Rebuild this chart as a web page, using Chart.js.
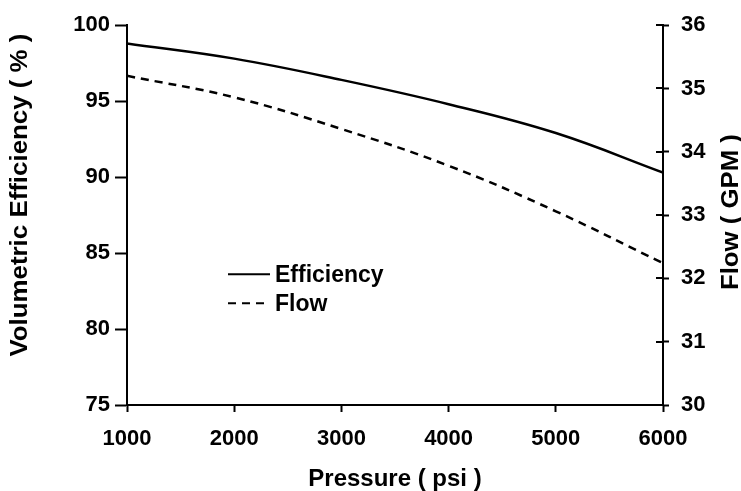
<!DOCTYPE html>
<html>
<head>
<meta charset="utf-8">
<script src="https://cdn.jsdelivr.net/npm/chart.js@4"></script>
<style>
  html, body { margin: 0; padding: 0; background: #fff; }
  #wrap { width: 741px; height: 491px; }
</style>
</head>
<body>
<div id="wrap"><canvas id="chart" width="741" height="491"></canvas></div>
<script>
const pressure = [1000, 2000, 3000, 4000, 5000, 6000];
const efficiency = [98.8, 97.8, 96.4, 94.8, 92.9, 90.3];
const flow = [35.2, 34.86, 34.36, 33.78, 33.06, 32.24];
const seriesNames = ['Efficiency', 'Flow'];
const axisTitles = ['Pressure ( psi )', 'Volumetric Efficiency ( % )', 'Flow ( GPM )'];

const FONT = '"Liberation Sans", Arial, sans-serif';

// draw a vertical title reading bottom-to-top, stretched to a target length
function vTitle(ctx, text, cx, cy, len) {
  ctx.save();
  ctx.fillStyle = '#000';
  ctx.font = 'bold 24px ' + FONT;
  ctx.textAlign = 'center';
  ctx.textBaseline = 'middle';
  const w = ctx.measureText(text).width;
  ctx.translate(cx, cy);
  ctx.rotate(-Math.PI / 2);
  ctx.scale(len / w, 1);
  ctx.fillText(text, 0, 0);
  ctx.restore();
}

// y titles read bottom-to-top on both sides, so draw them by hand
const sideTitles = {
  id: 'sideTitles',
  afterDraw(chart) {
    const { ctx, chartArea } = chart;
    const mid = (chartArea.top + chartArea.bottom) / 2;
    vTitle(ctx, axisTitles[1], 20, mid - 20, 323);
    vTitle(ctx, axisTitles[2], 731, mid - 3, 156);
  }
};

// right axis ticks cross the line; chart.js only draws the outer half
const innerTicks = {
  id: 'innerTicks',
  afterDraw(chart) {
    const { ctx, chartArea } = chart;
    const y1 = chart.scales.y1;
    ctx.save();
    ctx.strokeStyle = '#000';
    ctx.lineWidth = 2;
    y1.ticks.forEach(t => {
      const y = Math.round(y1.getPixelForValue(t.value));
      ctx.beginPath();
      ctx.moveTo(chartArea.right - 7, y);
      ctx.lineTo(chartArea.right, y);
      ctx.stroke();
    });
    ctx.restore();
  }
};

// legend sits inside the plot area
const innerLegend = {
  id: 'innerLegend',
  afterDraw(chart) {
    const { ctx, chartArea } = chart;
    const x0 = chartArea.left + 101;
    const rows = [chartArea.top + 249, chartArea.top + 278];
    ctx.save();
    ctx.strokeStyle = '#000';
    ctx.fillStyle = '#000';
    ctx.lineWidth = 2;
    ctx.font = 'bold 23px ' + FONT;
    ctx.textBaseline = 'middle';
    chart.data.datasets.forEach((ds, i) => {
      ctx.setLineDash(ds.borderDash || []);
      ctx.beginPath();
      ctx.moveTo(x0, rows[i]);
      ctx.lineTo(x0 + (i ? 36 : 42), rows[i]);
      ctx.stroke();
      ctx.setLineDash([]);
      ctx.fillText(ds.label, x0 + 47, rows[i] + 1);
    });
    ctx.restore();
  }
};

const tickFont = { family: FONT, size: 22, weight: 'bold' };

new Chart(document.getElementById('chart'), {
  type: 'line',
  data: {
    datasets: [
      {
        label: seriesNames[0],
        data: pressure.map((p, i) => ({ x: p, y: efficiency[i] })),
        yAxisID: 'y',
        borderColor: '#000',
        borderWidth: 2.5,
        pointRadius: 0,
        tension: 0.4,
        fill: false
      },
      {
        label: seriesNames[1],
        data: pressure.map((p, i) => ({ x: p, y: flow[i] })),
        yAxisID: 'y1',
        borderColor: '#000',
        borderWidth: 2.5,
        borderDash: [8, 6],
        pointRadius: 0,
        tension: 0.4,
        fill: false
      }
    ]
  },
  options: {
    responsive: false,
    animation: false,
    layout: { padding: { top: 21, left: 0, right: 0, bottom: 0 } },
    plugins: { legend: { display: false }, tooltip: { enabled: false } },
    scales: {
      x: {
        type: 'linear',
        min: 1000,
        max: 6000,
        ticks: {
          stepSize: 1000, color: '#000', font: tickFont, padding: 14, maxRotation: 0,
          callback: v => String(v)
        },
        grid: { drawOnChartArea: false, drawTicks: true, tickLength: 7, tickWidth: 2, tickColor: '#000' },
        border: { color: '#000', width: 2 },
        title: {
          display: true,
          text: axisTitles[0],
          color: '#000',
          font: { family: FONT, size: 24, weight: 'bold' },
          padding: { top: 0, bottom: -3 }
        },
        afterFit(scale) { scale.height = 86; }
      },
      y: {
        position: 'left',
        min: 75,
        max: 100,
        ticks: { stepSize: 5, color: '#000', font: tickFont, padding: 5 },
        grid: { drawOnChartArea: false, drawTicks: true, tickLength: 12, tickWidth: 2, tickColor: '#000' },
        border: { color: '#000', width: 2 },
        afterFit(scale) { scale.width = 127; }
      },
      y1: {
        position: 'right',
        min: 30,
        max: 36,
        ticks: { stepSize: 1, color: '#000', font: tickFont, padding: 12 },
        grid: { drawOnChartArea: false, drawTicks: true, tickLength: 6, tickWidth: 2, tickColor: '#000' },
        border: { color: '#000', width: 2 },
        afterFit(scale) { scale.width = 78; }
      }
    }
  },
  plugins: [sideTitles, innerTicks, innerLegend]
});
</script>
</body>
</html>
